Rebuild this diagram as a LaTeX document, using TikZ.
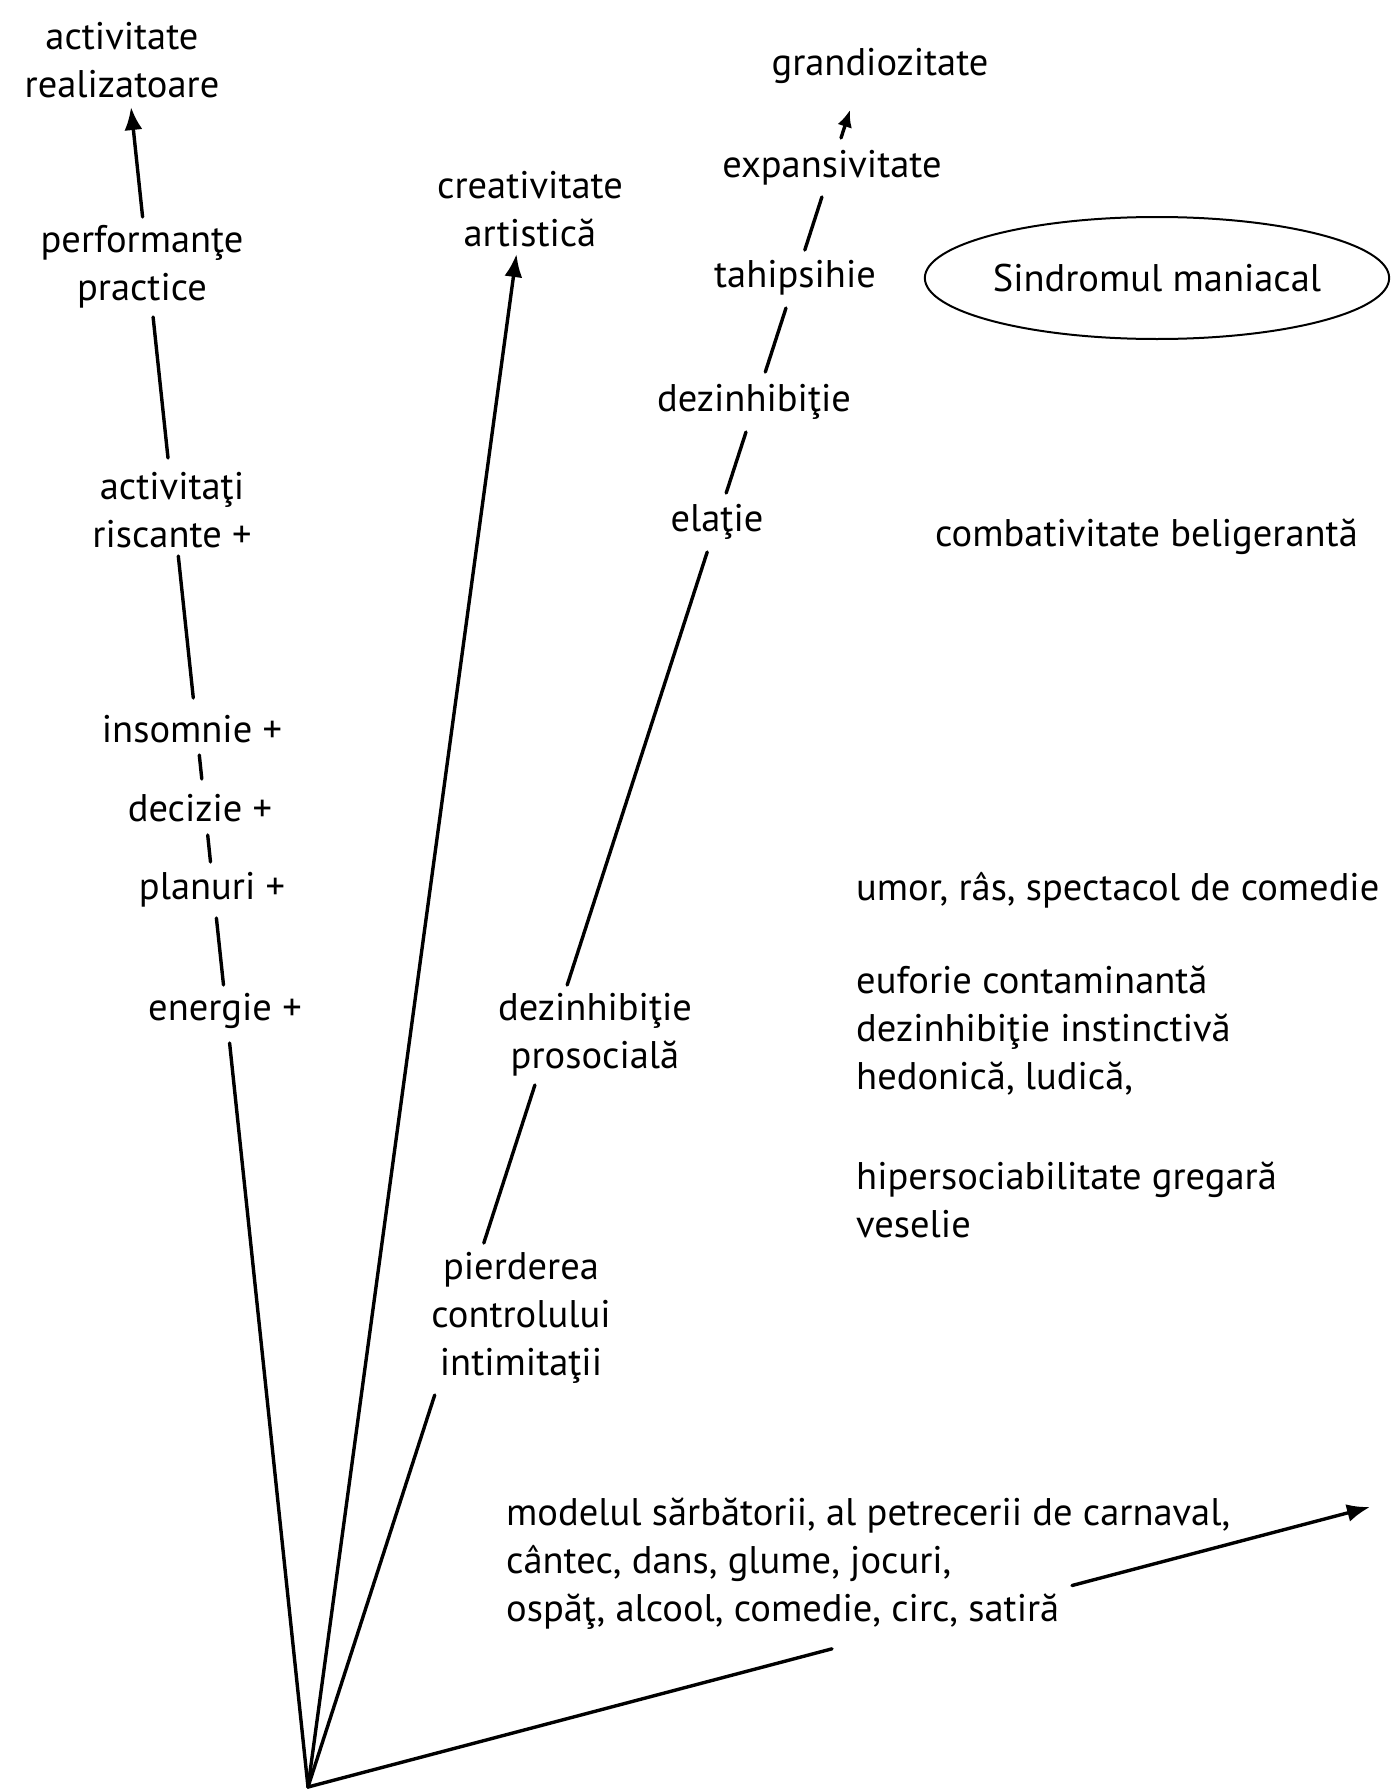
\documentclass[tikz,border=0pt]{standalone}
\usepackage{fontspec}
\setmainfont{PT Sans}
\usetikzlibrary{arrows.meta,shapes.geometric}
\begin{document}
\begin{tikzpicture}[x=1pt,y=-1pt,
  txt/.style={inner sep=0pt, align=center, font=\fontsize{38.5}{48}\selectfont},
  ltxt/.style={inner sep=0pt, align=left, anchor=west, font=\fontsize{38.5}{48}\selectfont},
  ray/.style={line width=3.4pt, line cap=round},
  tipped/.style={ray, -{Latex[length=23pt,width=18pt]}},
  smalltip/.style={ray, -{Latex[length=17pt,width=15pt]}},
]
\useasboundingbox (0,0) rectangle (1392,1790);

% ---------- apex and ray coordinates ----------
\coordinate (P) at (308,1787);
% ray A (left)
\coordinate (a1) at (229.6,1043);
\coordinate (a2) at (223.5,985);  \coordinate (a3) at (216.4,918);
\coordinate (a4) at (210.5,862);  \coordinate (a5) at (207.7,835);
\coordinate (a6) at (201.8,779);  \coordinate (a7) at (199.3,755);
\coordinate (a8) at (193.3,698);  \coordinate (a9) at (178.3,556);
\coordinate (a10) at (168.0,458); \coordinate (a11) at (153.1,317);
\coordinate (a12) at (142.6,217); \coordinate (aT) at (131,107);
% ray B
\coordinate (bT) at (516.5,254);
% ray C
\coordinate (c1) at (434.7,1395);
\coordinate (c2) at (483.8,1243); \coordinate (c3) at (534.9,1085);
\coordinate (c4) at (567.2,985);  \coordinate (c5) at (707.2,552);
\coordinate (c6) at (726.2,493);  \coordinate (c7) at (746.0,432);
\coordinate (c8) at (765.3,372);  \coordinate (c9) at (786.0,308);
\coordinate (c10) at (804.8,250); \coordinate (c11) at (821.9,197);
\coordinate (c12) at (841.0,138); \coordinate (cT) at (850,110);
% ray D
\coordinate (d1) at (832,1648.8);
\coordinate (d2) at (1072,1585.5); \coordinate (dT) at (1370,1507);

% ---------- labels ----------
\node[txt] (actreal) at (122,60) {activitate\\realizatoare};
\node[txt] (perf) at (142,267) {performanţe\\practice};
\node[txt] (activ) at (172,510) {activitaţi\\riscante +};
\node[txt] (insom) at (192,729) {insomnie +};
\node[txt] (decz) at (200,808) {decizie +};
\node[txt] (plan) at (212,890) {planuri +};
\node[txt] (energ) at (225,1011) {energie +};

\node[txt] (creat) at (530,209) {creativitate\\artistică};

\node[txt] (grand) at (880,66) {grandiozitate};
\node[txt] (expan) at (832,168) {expansivitate};
\node[txt] (tahip) at (795,278) {tahipsihie};
\node[txt] (dezi) at (754,402) {dezinhibiţie};
\node[txt] (elat) at (717,522) {elaţie};
\node[txt] (dezpro) at (595,1035) {dezinhibiţie\\prosocială};
\node[txt] (pierd) at (521,1318) {pierderea\\controlului\\intimitaţii};

\node[ellipse, draw, line width=2pt, minimum width=446pt, minimum height=122pt,
      inner sep=0pt, font=\fontsize{38.5}{48}\selectfont] (sindr) at (1157,278) {Sindromul maniacal};

\node[ltxt] (comb) at (935,537) {combativitate beligerantă};
\node[ltxt] (umor) at (856,890) {umor, râs, spectacol de comedie};
\node[ltxt] (eufor) at (856,1030) {euforie contaminantă\\dezinhibiţie instinctivă\\hedonică, ludică,};
\node[ltxt] (hiper) at (856,1200) {hipersociabilitate gregară\\veselie};
\node[ltxt] (model) at (506,1564) {modelul sărbătorii, al petrecerii de carnaval,\\cântec, dans, glume, jocuri,\\ospăţ, alcool, comedie, circ, satiră};

% ---------- rays ----------
\draw[ray] (P) -- (a1);
\draw[ray] (a2) -- (a3);
\draw[ray] (a4) -- (a5);
\draw[ray] (a6) -- (a7);
\draw[ray] (a8) -- (a9);
\draw[ray] (a10) -- (a11);
\draw[tipped] (a12) -- (aT);

\draw[tipped] (P) -- (bT);

\draw[ray] (P) -- (c1);
\draw[ray] (c2) -- (c3);
\draw[ray] (c4) -- (c5);
\draw[ray] (c6) -- (c7);
\draw[ray] (c8) -- (c9);
\draw[ray] (c10) -- (c11);
\draw[smalltip] (c12) -- (cT);

\draw[ray] (P) -- (d1);
\draw[tipped] (d2) -- (dT);
\end{tikzpicture}
\end{document}
